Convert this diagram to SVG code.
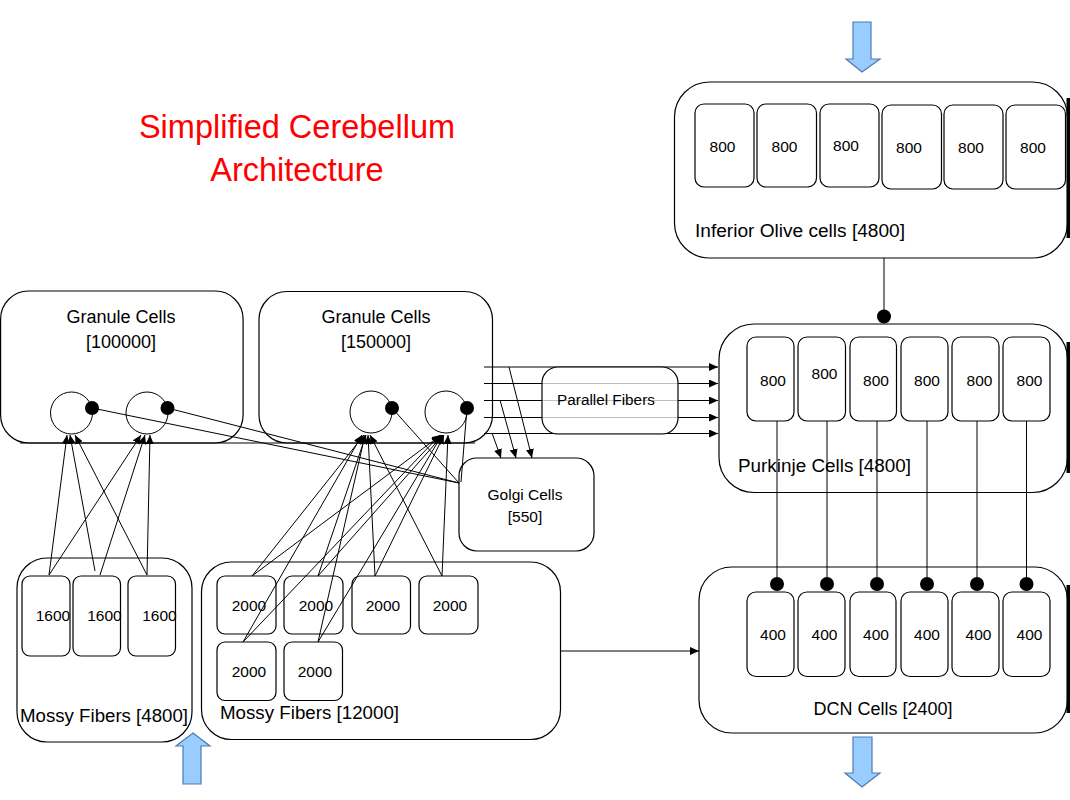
<svg xmlns="http://www.w3.org/2000/svg" width="1070" height="800" viewBox="0 0 1070 800">
<defs>
<marker id="arr" markerUnits="userSpaceOnUse" markerWidth="10" markerHeight="8" refX="9" refY="4" orient="auto">
<path d="M0,0 L9,4 L0,8 Z" fill="#000"/>
</marker>
<style>
.box{fill:none;stroke:#000;stroke-width:1.2}
.cell{fill:none;stroke:#000;stroke-width:1}
.t{font-family:"Liberation Sans",Arial,sans-serif;fill:#000}
.lbl{font-size:18px}
.num{font-size:15.5px;text-anchor:middle}
.c{text-anchor:middle}
.ln{stroke:#000;stroke-width:1;fill:none}
.ar{stroke:#000;stroke-width:1;fill:none;marker-end:url(#arr)}
.dot{fill:#000}
.blue{fill:#99CCFF;stroke:#4F7BB0;stroke-width:1.2}
.edge{fill:#000}
.red{fill:#f00;font-size:32.5px;text-anchor:middle}
</style>
</defs>
<rect width="1070" height="800" fill="#fff"/>

<g id="title">
<text class="t red" x="297" y="138">Simplified Cerebellum</text>
<text class="t red" x="297" y="181">Architecture</text>
</g>

<g id="granule1">
<rect class="box" x="0.6" y="291" width="242.5" height="152" rx="28"/>
<text class="t lbl c" x="121" y="323">Granule Cells</text>
<text class="t lbl c" x="121" y="348">[100000]</text>
<circle class="cell" cx="71.5" cy="413" r="21"/>
<circle class="cell" cx="147" cy="413" r="21"/>
</g>

<g id="granule2">
<rect class="box" x="259" y="291.5" width="233.5" height="151.5" rx="28"/>
<text class="t lbl c" x="376" y="323">Granule Cells</text>
<text class="t lbl c" x="376" y="348">[150000]</text>
<circle class="cell" cx="371" cy="412" r="21"/>
<circle class="cell" cx="446" cy="412" r="21"/>
</g>

<g id="golgi">
<rect class="box" x="459" y="458" width="135" height="93" rx="18"/>
<text class="t c" x="525" y="500" font-size="15.5">Golgi Cells</text>
<text class="t c" x="525" y="522" font-size="15.5">[550]</text>
</g>

<g id="mossy1">
<rect class="box" x="17" y="558" width="175" height="184" rx="30"/>
<rect class="box" x="22" y="576" width="48" height="80" rx="8"/>
<rect class="box" x="73" y="576" width="47.5" height="80" rx="8"/>
<rect class="box" x="128" y="576" width="47.5" height="80" rx="8"/>
<text class="t num" x="53" y="621">1600</text>
<text class="t num" x="104.5" y="621">1600</text>
<text class="t num" x="159.5" y="621">1600</text>
<text class="t lbl" x="20" y="722" textLength="168" lengthAdjust="spacingAndGlyphs">Mossy Fibers [4800]</text>
</g>

<g id="mossy2">
<rect class="box" x="201.5" y="562" width="359" height="177.5" rx="30"/>
<rect class="box" x="217" y="576" width="59" height="58" rx="8"/>
<rect class="box" x="284" y="576" width="59" height="58" rx="8"/>
<rect class="box" x="352" y="576" width="58.5" height="58" rx="8"/>
<rect class="box" x="419" y="576" width="59" height="58" rx="8"/>
<rect class="box" x="217" y="642" width="59" height="58.5" rx="8"/>
<rect class="box" x="284" y="642" width="58.5" height="58.5" rx="8"/>
<text class="t num" x="249" y="611">2000</text>
<text class="t num" x="316" y="611">2000</text>
<text class="t num" x="383" y="611">2000</text>
<text class="t num" x="450" y="611">2000</text>
<text class="t num" x="249" y="677">2000</text>
<text class="t num" x="315" y="677">2000</text>
<text class="t lbl" x="220" y="719" textLength="179" lengthAdjust="spacingAndGlyphs">Mossy Fibers [12000]</text>
</g>

<g id="inferior-olive">
<rect class="box" x="674.5" y="82" width="393" height="176" rx="35"/>
<rect class="box" x="695" y="104" width="59" height="83" rx="9"/>
<rect class="box" x="757" y="104" width="59.5" height="83" rx="9"/>
<rect class="box" x="820" y="104" width="59" height="83" rx="9"/>
<rect class="box" x="882" y="105" width="59.5" height="84" rx="9"/>
<rect class="box" x="944" y="105" width="59" height="84" rx="9"/>
<rect class="box" x="1006" y="105" width="59.5" height="84" rx="9"/>
<text class="t num" x="722.5" y="152">800</text>
<text class="t num" x="784.5" y="152">800</text>
<text class="t num" x="846" y="151">800</text>
<text class="t num" x="909" y="153">800</text>
<text class="t num" x="971" y="153">800</text>
<text class="t num" x="1033" y="153">800</text>
<text class="t lbl" x="695" y="237" textLength="210" lengthAdjust="spacingAndGlyphs">Inferior Olive cells [4800]</text>
<rect class="edge" x="1066.5" y="98" width="3.5" height="140"/>
</g>

<g id="purkinje">
<rect class="box" x="719" y="324" width="348.5" height="168.5" rx="35"/>
<rect class="box" x="747" y="337" width="47" height="84" rx="9"/>
<rect class="box" x="798" y="337" width="47.5" height="84" rx="9"/>
<rect class="box" x="850" y="337" width="46.5" height="84" rx="9"/>
<rect class="box" x="901" y="337" width="47" height="84" rx="9"/>
<rect class="box" x="952" y="337" width="47" height="84" rx="9"/>
<rect class="box" x="1003" y="337" width="47" height="84" rx="9"/>
<text class="t num" x="773" y="386">800</text>
<text class="t num" x="824.5" y="379">800</text>
<text class="t num" x="876" y="386">800</text>
<text class="t num" x="927" y="386">800</text>
<text class="t num" x="979.5" y="386">800</text>
<text class="t num" x="1029.5" y="386">800</text>
<text class="t lbl" x="738" y="472" textLength="173" lengthAdjust="spacingAndGlyphs">Purkinje Cells [4800]</text>
<rect class="edge" x="1066.5" y="342" width="3.5" height="131"/>
</g>

<g id="dcn">
<rect class="box" x="699" y="567" width="368.5" height="166" rx="33"/>
<rect class="box" x="747" y="592" width="47" height="84.5" rx="9"/>
<rect class="box" x="798" y="592" width="47" height="84.5" rx="9"/>
<rect class="box" x="850" y="592" width="46" height="84.5" rx="9"/>
<rect class="box" x="901" y="592" width="47" height="84.5" rx="9"/>
<rect class="box" x="952" y="592" width="47" height="84.5" rx="9"/>
<rect class="box" x="1003" y="592" width="47" height="84.5" rx="9"/>
<text class="t num" x="773" y="640">400</text>
<text class="t num" x="824.5" y="640">400</text>
<text class="t num" x="876" y="640">400</text>
<text class="t num" x="927" y="640">400</text>
<text class="t num" x="978.5" y="640">400</text>
<text class="t num" x="1029.5" y="640">400</text>
<text class="t lbl c" x="883" y="715">DCN Cells [2400]</text>
<rect class="edge" x="1066.5" y="585" width="3.5" height="128"/>
</g>

<g id="connectors">
<line class="ln" x1="20" y1="443" x2="475" y2="443"/>
<line class="ar" x1="49" y1="575" x2="67" y2="435"/>
<line class="ar" x1="49" y1="575" x2="141" y2="435"/>
<line class="ar" x1="95" y1="571" x2="70" y2="435"/>
<line class="ar" x1="100" y1="575" x2="145" y2="435"/>
<line class="ar" x1="147" y1="575" x2="75" y2="435"/>
<line class="ar" x1="147" y1="575" x2="150" y2="435"/>
<line class="ar" x1="252" y1="576" x2="364" y2="435"/>
<line class="ar" x1="252" y1="576" x2="441" y2="435"/>
<line class="ar" x1="318" y1="576" x2="366" y2="435"/>
<line class="ar" x1="318" y1="576" x2="443" y2="435"/>
<line class="ar" x1="375" y1="576" x2="368" y2="435"/>
<line class="ar" x1="375" y1="576" x2="444" y2="435"/>
<line class="ar" x1="442" y1="576" x2="370" y2="435"/>
<line class="ar" x1="442" y1="576" x2="448" y2="435"/>
<line class="ar" x1="243" y1="642" x2="362" y2="435"/>
<line class="ar" x1="243" y1="642" x2="440" y2="435"/>
<line class="ar" x1="318" y1="642" x2="365" y2="435"/>
<line class="ar" x1="318" y1="642" x2="442" y2="435"/>
<line class="ln" x1="459" y1="483" x2="92" y2="408"/>
<line class="ln" x1="459" y1="483" x2="167.5" y2="408"/>
<line class="ln" x1="459" y1="483" x2="392" y2="408"/>
<line class="ln" x1="461" y1="482" x2="467" y2="408"/>
<circle class="dot" cx="92" cy="408" r="7"/>
<circle class="dot" cx="167.5" cy="408" r="7"/>
<circle class="dot" cx="392" cy="408" r="7"/>
<circle class="dot" cx="467" cy="408" r="7"/>
<line class="ar" x1="484" y1="367" x2="718" y2="367"/>
<line class="ar" x1="484" y1="383.5" x2="718" y2="383.5"/>
<line class="ar" x1="484" y1="400.5" x2="718" y2="400.5"/>
<line class="ar" x1="484" y1="417.5" x2="718" y2="417.5"/>
<line class="ar" x1="484" y1="433.5" x2="718" y2="433.5"/>
<line class="ar" x1="509" y1="367" x2="532" y2="458"/>
<line class="ar" x1="500" y1="400" x2="516" y2="458"/>
<line class="ar" x1="492" y1="433" x2="501" y2="458"/>
<line class="ln" x1="884" y1="258" x2="884" y2="316"/>
<circle class="dot" cx="884" cy="316.5" r="7"/>
<line class="ln" x1="777" y1="421" x2="777" y2="584"/>
<line class="ln" x1="827" y1="421" x2="827" y2="584"/>
<line class="ln" x1="877" y1="421" x2="877" y2="584"/>
<line class="ln" x1="927" y1="421" x2="927" y2="584"/>
<line class="ln" x1="977" y1="421" x2="977" y2="584"/>
<line class="ln" x1="1026.5" y1="421" x2="1026.5" y2="584"/>
<circle class="dot" cx="777" cy="584" r="7"/>
<circle class="dot" cx="827" cy="584" r="7"/>
<circle class="dot" cx="877" cy="584" r="7"/>
<circle class="dot" cx="927" cy="584" r="7"/>
<circle class="dot" cx="977" cy="584" r="7"/>
<circle class="dot" cx="1026.5" cy="584" r="7"/>
<line class="ar" x1="561" y1="651" x2="699" y2="651"/>
</g>

<g id="parallel-fibers">
<rect x="542" y="367" width="136" height="67" rx="16" fill="#fff" fill-opacity="0.75" stroke="#000" stroke-width="1.2"/>
<text class="t c" x="606" y="405" font-size="15.3">Parallel Fibers</text>
</g>

<g id="inputs-outputs">
<polygon class="blue" points="853,22 871,22 871,59 880,59 862,72 846,59 853,59"/>
<polygon class="blue" points="853,737 872,737 872,773 880,773 862,787 845,773 853,773"/>
<polygon class="blue" points="193,733 210,746 201,746 201,784 183,784 183,746 176,746"/>
</g>
</svg>
